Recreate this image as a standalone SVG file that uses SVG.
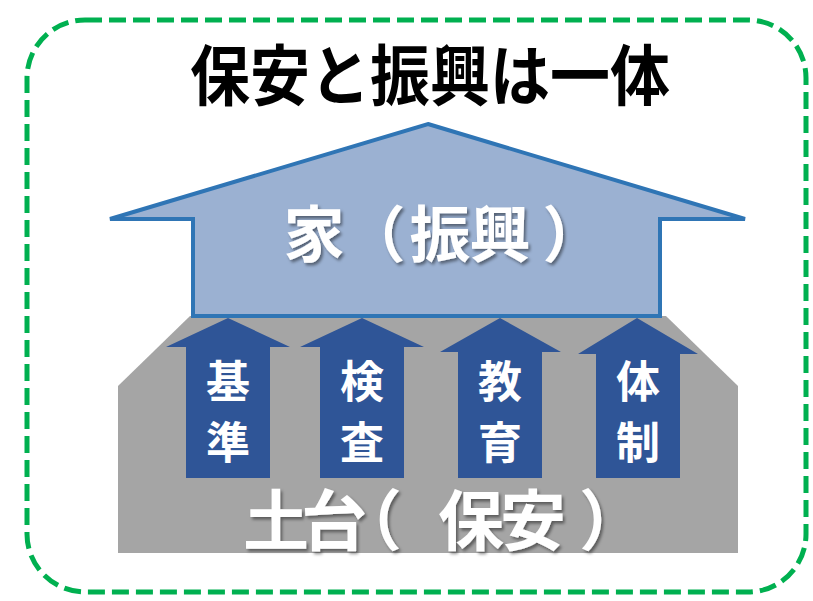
<svg xmlns="http://www.w3.org/2000/svg" width="813" height="601" viewBox="0 0 813 601">
<defs>
<filter id="sh" x="-10%" y="-10%" width="130%" height="130%">
<feDropShadow dx="2" dy="2.5" stdDeviation="1.5" flood-color="#000" flood-opacity="0.45"/>
</filter>
<style>
.t{font-family:"Noto Sans CJK JP","Noto Sans CJK SC",sans-serif;font-weight:bold;text-anchor:middle;text-spacing-trim:space-all}
.w{fill:#fff}
.arr{fill:#2F5597}
.h{font-size:61px}
.b{font-size:66px}
</style>
</defs>
<rect id="frame" x="27" y="20" width="779" height="572" rx="58" ry="58" fill="#fff" stroke="#00B050" stroke-width="5" stroke-dasharray="17 7"/>
<g id="title"><text class="t" transform="translate(430,100) scale(1,1.1)" x="0" y="0" font-size="60" font-weight="900" fill="#000">保安と振興は一体</text></g>
<g id="base">
<polygon points="190,316 666,316 738,386 738,553 118,553 118,386" fill="#A5A5A5"/>
<g filter="url(#sh)">
<text class="t w b" x="276" y="545">土</text>
<text class="t w b" x="334" y="545">台</text>
<text class="t w b" x="369" y="545">（</text>
<text class="t w b" x="471" y="545">保</text>
<text class="t w b" x="533" y="545">安</text>
<text class="t w b" x="612" y="545">）</text>
</g>
</g>
<g id="house">
<polygon points="428,124 745,219 660,219 660,316 193,316 193,219 110,219" fill="#9BB1D2" stroke="#2F75B5" stroke-width="4" stroke-linejoin="miter"/>
<g filter="url(#sh)">
<text class="t w h" x="314" y="257">家</text>
<text class="t w h" x="375" y="257">（</text>
<text class="t w h" x="440" y="257">振</text>
<text class="t w h" x="500" y="257">興</text>
<text class="t w h" x="573" y="257">）</text>
</g>
</g>
<g id="connectors">
<g id="a1"><polygon class="arr" points="228,318 290,347 270,347 270,478 186,478 186,347 166,347"/>
<text class="t w" x="228" y="398" font-size="44">基</text><text class="t w" x="228" y="459" font-size="44">準</text></g>
<g id="a2"><polygon class="arr" points="362,318 424,347 404,347 404,478 320,478 320,347 300,347"/>
<text class="t w" x="362" y="398" font-size="44">検</text><text class="t w" x="362" y="459" font-size="44">査</text></g>
<g id="a3"><polygon class="arr" points="500,318 561,352 542,352 542,478 458,478 458,352 440,352"/>
<text class="t w" x="500" y="398" font-size="44">教</text><text class="t w" x="500" y="459" font-size="44">育</text></g>
<g id="a4"><polygon class="arr" points="637,318 698,354 680,354 680,478 596,478 596,354 578,354"/>
<text class="t w" x="638" y="398" font-size="44">体</text><text class="t w" x="638" y="459" font-size="44">制</text></g>
</g>
</svg>
